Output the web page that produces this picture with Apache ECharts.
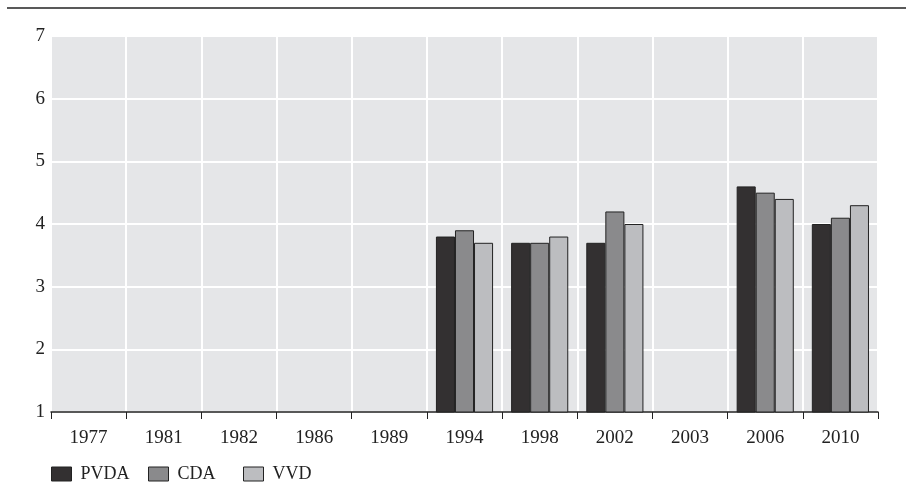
<!DOCTYPE html>
<html>
<head>
<meta charset="utf-8">
<script src="https://cdn.jsdelivr.net/npm/echarts@6/dist/echarts.min.js"></script>
<style>html,body{margin:0;padding:0;background:#fff}#c{width:906px;height:504px}</style>
</head>
<body>
<div id="c"></div>
<script>
const years = ['1977','1981','1982','1986','1989','1994','1998','2002','2003','2006','2010'];
const pvda = [null,null,null,null,null,3.8,3.7,3.7,null,4.6,4.0];
const cda  = [null,null,null,null,null,3.9,3.7,4.2,null,4.5,4.1];
const vvd  = [null,null,null,null,null,3.7,3.8,4.0,null,4.4,4.3];
const seriesNames = ['PVDA','CDA','VVD'];
const colors = ['#333031','#8a8a8c','#bcbdc0'];
const legendLefts = [51, 148, 243];

const font = '"Liberation Serif", "DejaVu Serif", serif';
const chart = echarts.init(document.getElementById('c'));
const mk = (name, data, i) => ({
  name, type: 'bar', data,
  barGap: 0, barCategoryGap: '24%',
  itemStyle: { color: colors[i], borderColor: '#222', borderWidth: 1 },
  emphasis: { disabled: true }
});
chart.setOption({
  animation: false,
  textStyle: { fontFamily: font },
  grid: { left: 51, right: 28, top: 36, bottom: 92, containLabel: false,
          show: true, backgroundColor: '#e5e6e8', borderWidth: 0 },
  graphic: [{ type: 'line', shape: { x1: 7, y1: 8, x2: 906, y2: 8 },
              style: { stroke: '#222', lineWidth: 1.5 } }],
  legend: seriesNames.map((n, i) => ({
    left: legendLefts[i], top: 465, padding: 0, itemWidth: 20, itemHeight: 14,
    icon: 'rect', data: [n],
    itemStyle: { borderColor: '#222', borderWidth: 1 },
    textStyle: { fontFamily: font, fontSize: 18, color: '#222', padding: [0,0,0,4] }
  })),
  xAxis: {
    type: 'category', data: years,
    axisLine: { show: true, lineStyle: { color: '#222', width: 1.5 } },
    axisTick: { show: true, length: 7, lineStyle: { color: '#222' } },
    axisLabel: { fontFamily: font, fontSize: 19, color: '#222', margin: 17 },
    splitLine: { show: true, lineStyle: { color: '#ffffff', width: 2 } }
  },
  yAxis: {
    type: 'value', min: 1, max: 7, interval: 1,
    axisLine: { show: false }, axisTick: { show: false },
    axisLabel: { fontFamily: font, fontSize: 19, color: '#222', margin: 6 },
    splitLine: { show: true, lineStyle: { color: '#ffffff', width: 2 } }
  },
  series: [mk('PVDA', pvda, 0), mk('CDA', cda, 1), mk('VVD', vvd, 2)]
});
</script>
</body>
</html>
